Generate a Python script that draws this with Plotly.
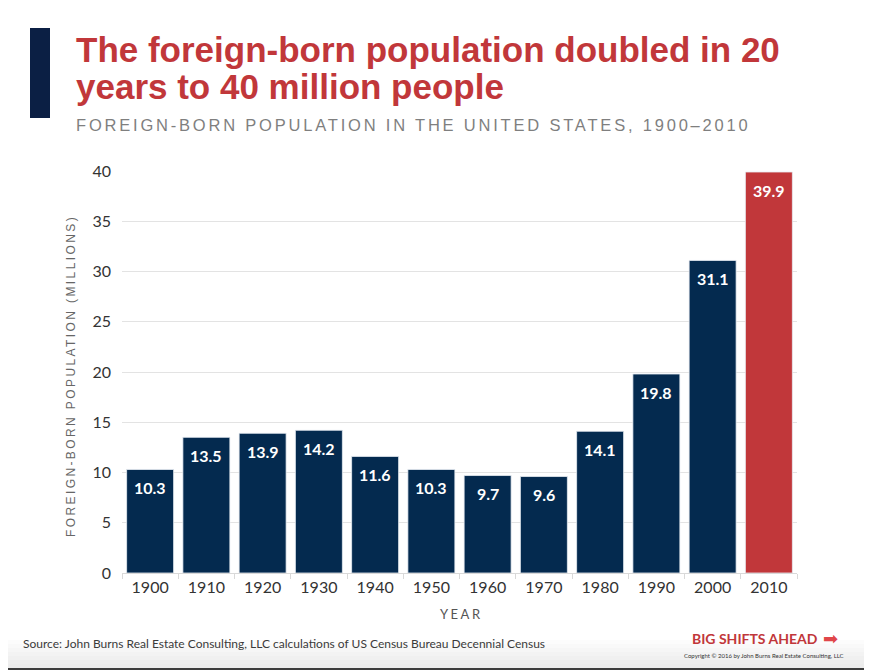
import plotly.graph_objects as go

years = ["1900", "1910", "1920", "1930", "1940", "1950", "1960", "1970", "1980", "1990", "2000", "2010"]
population = [10.3, 13.5, 13.9, 14.2, 11.6, 10.3, 9.7, 9.6, 14.1, 19.8, 31.1, 39.9]
y_ticks = [0, 5, 10, 15, 20, 25, 30, 35, 40]

NAVY = "#042A4F"
RED = "#C1373A"

OFF = 8  # the page body margin shifts the figure by 8px
W, H = 872 - OFF, 672 - OFF
L, R, T, B = 122, 797, 171, 573  # plot area, in reference pixels


def px_x(x):
    return (x - L) / (R - L)


def px_y(y):
    return (B - y) / (B - T)


def spaced(text, sp):
    return "<span style='letter-spacing:%spx'>%s</span>" % (sp, text)


colors = [NAVY] * (len(years) - 1) + [RED]

fig = go.Figure()

# faint grey fade at the bottom of the slide
for i in range(7):
    fig.add_shape(type="rect", xref="paper", yref="paper", layer="below",
                  x0=px_x(0), x1=px_x(869), y0=px_y(668), y1=px_y(640 + i * 4),
                  fillcolor="#d8d8d8", opacity=0.07, line_width=0)

fig.add_trace(go.Bar(
    x=years, y=population,
    marker=dict(color=colors, line=dict(color="#e8eef4", width=0.8)),
    hoverinfo="x+y",
))

# value labels inside the bars, near the top (category index on the x axis)
for i, val in enumerate(population):
    fig.add_annotation(x=i, y=val, text="<b>%.1f</b>" % val, showarrow=False,
                       yanchor="middle", yshift=-18,
                       font=dict(family="Lato", size=16, color="white"))

# title block
fig.add_shape(type="rect", xref="paper", yref="paper",
              x0=px_x(30), x1=px_x(50), y0=px_y(118), y1=px_y(28),
              fillcolor="#0B1F44", line_width=0)
fig.add_annotation(xref="paper", yref="paper", x=px_x(74), y=px_y(49.5),
                   xanchor="left", yanchor="middle", showarrow=False,
                   text="<b>The foreign-born population doubled in 20</b>",
                   font=dict(family="Liberation Sans", size=35, color=RED))
fig.add_annotation(xref="paper", yref="paper", x=px_x(74), y=px_y(86.5),
                   xanchor="left", yanchor="middle", showarrow=False,
                   text="<b>years to 40 million people</b>",
                   font=dict(family="Liberation Sans", size=35, color=RED))
fig.add_annotation(xref="paper", yref="paper", x=px_x(74), y=px_y(125),
                   xanchor="left", yanchor="middle", showarrow=False,
                   text=spaced("FOREIGN-BORN POPULATION IN THE UNITED STATES, 1900\u20132010", 2.8),
                   font=dict(family="Liberation Sans", size=16.5, color="#7f7f7f"))

# footer
fig.add_annotation(xref="paper", yref="paper", x=px_x(21), y=px_y(643),
                   xanchor="left", yanchor="middle", showarrow=False,
                   text="Source: John Burns Real Estate Consulting, LLC calculations of US Census Bureau Decennial Census",
                   font=dict(family="Lato", size=12, color="#3a3a3a"))
fig.add_annotation(xref="paper", yref="paper", x=px_x(820), y=px_y(638),
                   xanchor="right", yanchor="middle", showarrow=False,
                   text="<b>BIG SHIFTS AHEAD</b>",
                   font=dict(family="Lato", size=14, color=RED))
fig.add_annotation(xref="paper", yref="paper", x=px_x(821), y=px_y(638),
                   xanchor="left", yanchor="middle", showarrow=False,
                   text="\u27a1",
                   font=dict(family="DejaVu Sans", size=18, color="#E0464A"))
fig.add_annotation(xref="paper", yref="paper", x=px_x(846), y=px_y(655),
                   xanchor="right", yanchor="middle", showarrow=False,
                   text="Copyright \u00a9 2016 by John Burns Real Estate Consulting, LLC",
                   font=dict(family="Lato", size=6, color="#333333"))

# axis titles with the wide letter spacing of the original
fig.add_annotation(xref="paper", yref="paper", x=px_x(462), y=px_y(614),
                   xanchor="center", yanchor="middle", showarrow=False,
                   text=spaced("YEAR", 2.5),
                   font=dict(family="Lato", size=13, color="#555555"))
fig.add_annotation(xref="paper", yref="paper", x=px_x(71), y=px_y(376),
                   xanchor="center", yanchor="middle", showarrow=False, textangle=-90,
                   text=spaced("FOREIGN-BORN POPULATION (MILLIONS)", 2.4),
                   font=dict(family="Liberation Sans", size=12, color="#666666"))

# slide frame (right and bottom edges)
fig.add_shape(type="line", xref="paper", yref="paper",
              x0=px_x(868), x1=px_x(868), y0=px_y(0), y1=px_y(669),
              line=dict(color="#3c3c3c", width=2))
fig.add_shape(type="line", xref="paper", yref="paper",
              x0=px_x(0), x1=px_x(868), y0=px_y(669), y1=px_y(669),
              line=dict(color="#3c3c3c", width=2))

fig.update_layout(
    width=W, height=H,
    margin=dict(l=L - OFF, r=W - (R - OFF), t=T - OFF, b=H - (B - OFF), autoexpand=False),
    paper_bgcolor="white", plot_bgcolor="white",
    bargap=0.165,
    showlegend=False,
    font=dict(family="Lato", color="#333333"),
)
fig.update_xaxes(
    type="category", range=[-0.5, len(years) - 0.5], autorange=False,
    showline=True, linecolor="#d9d9d9", linewidth=1,
    ticks="outside", tickson="boundaries", ticklen=5, tickcolor="#d9d9d9",
    tickangle=0,
    tickfont=dict(family="Lato", size=16, color="#333333"),
)
fig.update_yaxes(
    range=[0, 40], autorange=False, tickvals=y_ticks,
    showgrid=True, gridcolor="#e3e3e3", gridwidth=1, zeroline=False,
    ticks="", ticklabelstandoff=10,
    tickfont=dict(family="Lato", size=16, color="#333333"),
)

fig.write_html("out.html")
